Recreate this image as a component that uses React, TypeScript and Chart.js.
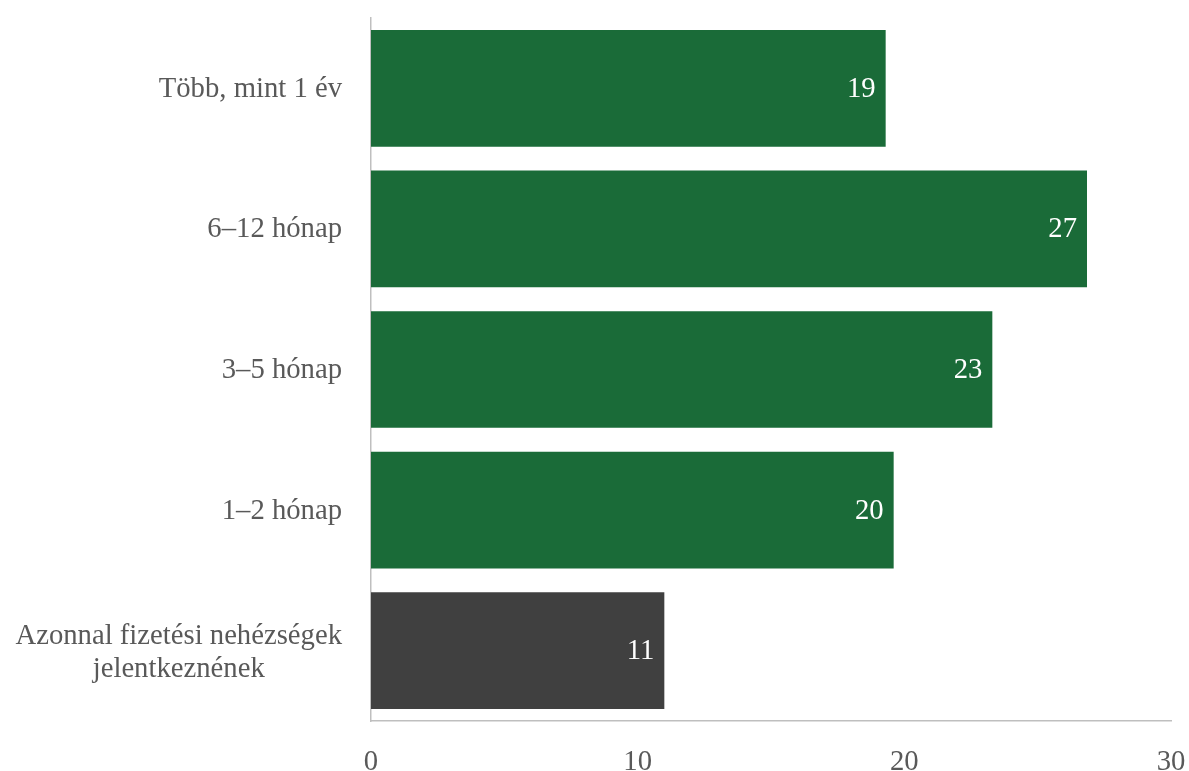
import React, { useEffect, useRef } from "react";
import { Chart, registerables } from "chart.js";

Chart.register(...registerables);

const categories: string[][] = [
  ["Több, mint 1 év"],
  ["6–12 hónap"],
  ["3–5 hónap"],
  ["1–2 hónap"],
  ["Azonnal fizetési nehézségek", "jelentkeznének"],
];
const values: number[] = [19.3, 26.85, 23.3, 19.6, 11.0];
const barColors: string[] = ["#1a6b38", "#1a6b38", "#1a6b38", "#1a6b38", "#404040"];
const xTicks: number[] = [0, 10, 20, 30];

const FONT = "'Liberation Serif', 'DejaVu Serif', serif";
const FS = 28.7;

const labelPlugin = {
  id: "customLabels",
  afterDraw(chart: any) {
    const ctx = chart.ctx;
    const yScale = chart.scales.y;
    const meta = chart.getDatasetMeta(0);
    ctx.save();
    ctx.font = `${FS}px ${FONT}`;
    ctx.textBaseline = "middle";
    // data labels
    ctx.fillStyle = "#ffffff";
    ctx.textAlign = "right";
    meta.data.forEach((bar: any, i: number) => {
      ctx.fillText(String(Math.round(values[i])), bar.x - 10, bar.y + 1);
    });
    // category labels
    ctx.fillStyle = "#595959";
    const rightX = chart.chartArea.left - 29;
    const lh = 33;
    categories.forEach((lines, i) => {
      const cy = yScale.getPixelForTick(i) + (lines.length > 1 ? 2 : 1);
      const widths = lines.map((l) => ctx.measureText(l).width);
      const maxW = Math.max(...widths);
      const cx = rightX - maxW / 2;
      lines.forEach((l, j) => {
        const y = cy + (j - (lines.length - 1) / 2) * lh;
        ctx.textAlign = "center";
        ctx.fillText(l, cx, y);
      });
    });
    ctx.restore();
  },
};

export default function App() {
  const ref = useRef<HTMLCanvasElement | null>(null);
  useEffect(() => {
    if (!ref.current) return;
    const chart = new Chart(ref.current, {
      type: "bar",
      data: {
        labels: categories.map((c) => c.join(" ")),
        datasets: [
          {
            data: values,
            backgroundColor: barColors,
            borderWidth: 0,
            barPercentage: 0.83,
            categoryPercentage: 1,
          },
        ],
      },
      options: {
        indexAxis: "y",
        animation: false,
        responsive: false,
        maintainAspectRatio: false,
        layout: { padding: { top: 18, right: 0, left: 0, bottom: 0 } },
        plugins: { legend: { display: false }, tooltip: { enabled: false } },
        scales: {
          x: {
            min: 0,
            max: 30,
            afterBuildTicks: (scale: any) => {
              scale.ticks = xTicks.map((v) => ({ value: v }));
            },
            grid: { display: false, drawTicks: false },
            border: { display: true, color: "#bfbfbf", width: 1.5 },
            ticks: {
              color: "#595959",
              font: { family: FONT, size: FS },
              padding: 24,
              maxRotation: 0,
            },
            afterFit: (scale: any) => {
              scale.height = 50;
              scale.paddingRight = 18;
            },
          },
          y: {
            grid: { display: false, drawTicks: false },
            border: { display: true, color: "#bfbfbf", width: 1.5 },
            ticks: { display: false },
            afterFit: (scale: any) => {
              scale.width = 371;
            },
          },
        },
      },
      plugins: [labelPlugin],
    });
    return () => chart.destroy();
  }, []);
  return (
    <div style={{ position: "fixed", left: 0, top: 0, width: 1189, height: 771, background: "#fff" }}>
      <canvas ref={ref} width={1189} height={771} />
    </div>
  );
}
